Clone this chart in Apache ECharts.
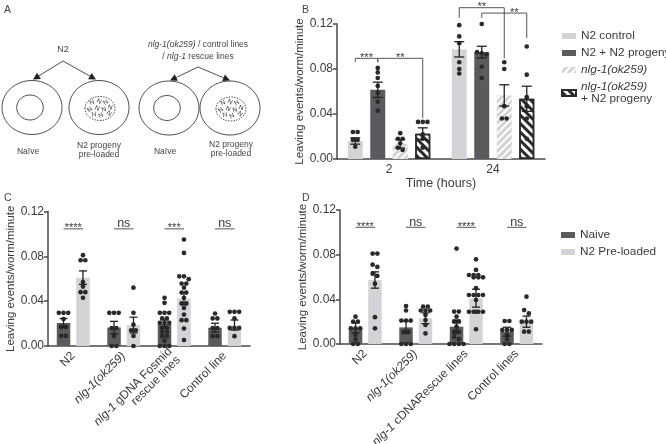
<!DOCTYPE html>
<html>
<head>
<meta charset="utf-8">
<script src="https://cdn.jsdelivr.net/npm/echarts@6/dist/echarts.min.js"></script>
<style>
  html, body { margin: 0; padding: 0; background: #fff; }
  #chart { width: 666px; height: 444px; }
</style>
</head>
<body>
<div id="chart"></div>
<script>
// ---------- panel B data ----------
const bCats = ['2', '24'];
const bNames = ['N2 control', 'N2 + N2 progeny', 'nlg-1(ok259)', 'nlg-1(ok259) + N2 progeny'];
const bMeans = [
  [0.016, 0.0975],
  [0.0615, 0.095],
  [0.0135, 0.0565],
  [0.0225, 0.0535]
];
const bSems = [
  [0.0028, 0.0068],
  [0.0068, 0.0052],
  [0.0038, 0.0095],
  [0.0052, 0.0112]
];
const bDots = [
  [[0.024, 0.024, 0.017, 0.017, 0.011], [0.119, 0.109, 0.103, 0.086, 0.080, 0.076]],
  [[0.081, 0.077, 0.072, 0.065, 0.059, 0.051, 0.043], [0.120, 0.095, 0.094, 0.093, 0.082, 0.072]],
  [[0.023, 0.018, 0.018, 0.014, 0.010, 0.008], [0.086, 0.080, 0.047, 0.036, 0.036]],
  [[0.033, 0.033, 0.033, 0.022, 0.018, 0.010], [0.100, 0.075, 0.055, 0.047, 0.036, 0.018]]
];
// [cat1, series1, cat2, series2, top, leg1 end, leg2 end, label, label shift px]
const bBrackets = [
  [0, 0, 0, 1, 0.0895, 0.086, 0.086, '***', 0],
  [0, 1, 0, 3, 0.0895, 0.086, 0.0365, '**', 0],
  [1, 0, 1, 2, 0.1345, 0.1255, 0.0895, '**', 0],
  [1, 1, 1, 3, 0.1297, 0.1255, 0.1075, '**', 10]
];

// ---------- panel C data ----------
const cCats = ['N2', 'nlg-1(ok259)', 'nlg-1 gDNA Fosmid\nrescue lines', 'Control line'];
const cNaiveMean = [0.0205, 0.0165, 0.0196, 0.0163];
const cNaiveSem = [0.004, 0.0055, 0.0037, 0.004];
const cLoadedMean = [0.061, 0.0187, 0.0424, 0.0187];
const cLoadedSem = [0.006, 0.007, 0.0055, 0.0045];
const cNaiveDots = [
  [0.0296, 0.0296, 0.0296, 0.024, 0.017, 0.017, 0.009, 0.009],
  [0.0296, 0.0296, 0.0296, 0.016, 0.016, 0.009, 0, 0],
  [0.043, 0.0385, 0.0296, 0.0296, 0.0296, 0.0246, 0.0246, 0.0207, 0.0207, 0.0207, 0.0163, 0.0163, 0.0127, 0.0127, 0.0088, 0.0088, 0.0047, 0, 0, 0],
  [0.029, 0.0246, 0.0246, 0.016, 0.016, 0.0088, 0.0088]
];
const cLoadedDots = [
  [0.081, 0.0765, 0.0765, 0.057, 0.053, 0.048, 0.048, 0.043],
  [0.052, 0.0296, 0.019, 0.014, 0.014, 0.009, 0],
  [0.095, 0.083, 0.0622, 0.0622, 0.0596, 0.0557, 0.0557, 0.052, 0.0477, 0.0477, 0.043, 0.038, 0.038, 0.034, 0.028, 0.023, 0.023, 0.0156, 0.0053],
  [0.0305, 0.0305, 0.0305, 0.0246, 0.016, 0.016, 0.016, 0.0088]
];
const cSig = ['****', 'ns', '***', 'ns'];

// ---------- panel D data ----------
const dCats = ['N2', 'nlg-1(ok259)', 'nlg-1 cDNARescue lines', 'Control lines'];
const dNaiveMean = [0.0146, 0.0149, 0.0155, 0.011];
const dNaiveSem = [0.0045, 0.0055, 0.006, 0.004];
const dLoadedMean = [0.0573, 0.023, 0.041, 0.020];
const dLoadedSem = [0.0073, 0.0048, 0.008, 0.005];
const dNaiveDots = [
  [0.0245, 0.020, 0.020, 0.014, 0.014, 0.014, 0.008, 0.004, 0, 0],
  [0.034, 0.030, 0.021, 0.021, 0.021, 0.011, 0.011, 0, 0, 0],
  [0.0855, 0.029, 0.029, 0.0245, 0.020, 0.020, 0.0155, 0.011, 0.011, 0.0066, 0.0044, 0, 0, 0, 0],
  [0.0206, 0.0206, 0.0126, 0.0126, 0.0126, 0.008, 0.0042, 0, 0]
];
const dLoadedDots = [
  [0.081, 0.081, 0.071, 0.069, 0.063, 0.061, 0.054, 0.024, 0.014],
  [0.0334, 0.0334, 0.030, 0.030, 0.030, 0.026, 0.0215, 0.017, 0.0095],
  [0.0758, 0.0663, 0.0618, 0.0618, 0.0618, 0.0597, 0.0597, 0.0597, 0.05, 0.0439, 0.0439, 0.0439, 0.0439, 0.0394, 0.0289, 0.0289, 0.0289, 0.0289, 0.0289, 0.0132],
  [0.0424, 0.0304, 0.0274, 0.020, 0.020, 0.020, 0.011, 0.011]
];
const dSig = ['****', 'ns', '****', 'ns'];
const sigLevel = 0.1045;

const yTicks = { min: 0, max: 0.12, interval: 0.04 };

// ---------- styling ----------
const FONT = 'Liberation Sans, Arial, sans-serif';
const txt = '#3a3a3a';
const axisCol = '#4a4a4a';
const lightGray = '#d4d4d8';
const darkGray = '#5b5b5f';

function ital(s) {
  return s.replace('nlg-1(ok259)', '{i|nlg-1(ok259)}').replace(/^nlg-1 /, '{i|nlg-1} ');
}
function legendFmt(name) {
  if (name === 'nlg-1(ok259) + N2 progeny') return '{i|nlg-1(ok259)}\n+ N2 progeny';
  return ital(name);
}

// spread dots of similar height into centred rows
function layoutDots(ys, d) {
  const idx = ys.map((y, i) => i).sort((a, b) => ys[a] - ys[b]);
  const out = new Array(ys.length);
  let row = [];
  const flush = () => {
    row.forEach((k, j) => { out[k] = (j - (row.length - 1) / 2) * d; });
    row = [];
  };
  idx.forEach(k => {
    if (row.length && (Math.abs(ys[k] - ys[row[0]]) > d * 0.8 || row.length >= 4)) flush();
    row.push(k);
  });
  flush();
  return out;
}

function dotsAndErrors(ax, sIdx, nSer, bw, gapR, means, sems, dots, capW, errCol) {
  return {
    type: 'custom', xAxisIndex: ax, yAxisIndex: ax, silent: true, z: 4,
    data: means.map((m, i) => [i, m, sems[i]]),
    encode: { x: 0, y: 1 },
    renderItem: function (params, api) {
      const ci = api.value(0), m = api.value(1), s = api.value(2);
      const x = api.coord([ci, m])[0] + (sIdx - (nSer - 1) / 2) * bw * (1 + gapR);
      const ys = dots[params.dataIndex].map(v => api.coord([ci, v])[1]);
      const dx = layoutDots(ys, 4.7);
      const kids = ys.map((y, k) => ({
        type: 'circle', shape: { cx: x + dx[k], cy: y, r: 2.35 }, style: { fill: '#2a2a2a' }
      }));
      const y1 = api.coord([ci, m + s])[1], y2 = api.coord([ci, m - s])[1];
      const ln = { stroke: errCol, lineWidth: 1.3 };
      kids.push({ type: 'line', shape: { x1: x, y1: y1, x2: x, y2: y2 }, style: ln });
      kids.push({ type: 'line', shape: { x1: x - capW / 2, y1: y1, x2: x + capW / 2, y2: y1 }, style: ln });
      kids.push({ type: 'line', shape: { x1: x - capW / 2, y1: y2, x2: x + capW / 2, y2: y2 }, style: ln });
      return { type: 'group', children: kids };
    }
  };
}

function bracketSeries(ax, nSer, bw, gapR, list) {
  return {
    type: 'custom', xAxisIndex: ax, yAxisIndex: ax, silent: true, z: 5,
    data: list.map(b => [b[0], b[4]]),
    encode: { x: 0, y: 1 },
    renderItem: function (params, api) {
      const b = list[params.dataIndex];
      const off = s => (s - (nSer - 1) / 2) * bw * (1 + gapR);
      const xa = api.coord([b[0], 0])[0] + off(b[1]);
      const xb = api.coord([b[2], 0])[0] + off(b[3]);
      const yt = api.coord([0, b[4]])[1];
      const ya = api.coord([0, b[5]])[1];
      const yb = api.coord([0, b[6]])[1];
      const isNs = b[7] === 'ns';
      return {
        type: 'group', children: [
          { type: 'polyline', shape: { points: [[xa, ya], [xa, yt], [xb, yt], [xb, yb]] },
            style: { stroke: '#555', lineWidth: 1, fill: null } },
          { type: 'text', x: (xa + xb) / 2 + (b[8] || 0), y: isNs ? yt + 1.5 : yt + 5,
            style: { text: b[7], fontSize: isNs ? 12.5 : 11, fontFamily: FONT, fill: txt,
                     align: 'center', verticalAlign: 'bottom' } }
        ]
      };
    }
  };
}

function yAxisCfg(grid, gap) {
  return {
    type: 'value', gridIndex: grid, min: yTicks.min, max: yTicks.max, interval: yTicks.interval,
    name: 'Leaving events/worm/minute', nameLocation: 'middle', nameGap: gap,
    nameTextStyle: { fontSize: 11.5, color: txt, fontFamily: FONT },
    axisLine: { show: true, lineStyle: { color: axisCol, width: 1.5 } },
    axisTick: { show: true, length: 4, lineStyle: { color: axisCol, width: 1.5 } },
    axisLabel: { formatter: v => v.toFixed(2), color: txt, fontSize: 12, margin: 4, fontFamily: FONT },
    splitLine: { show: false }
  };
}

const richI = { i: { fontStyle: 'italic', fontSize: 12, color: txt, fontFamily: FONT } };

function xAxisCfg(grid, cats, rotate) {
  return {
    type: 'category', gridIndex: grid, data: cats,
    axisLine: { lineStyle: { color: axisCol, width: 1.5 } },
    axisTick: { alignWithLabel: true, length: 4, lineStyle: { color: axisCol, width: 1.5 } },
    axisLabel: { color: txt, fontSize: 12, fontFamily: FONT, rotate: rotate, margin: rotate ? 8 : 5,
                 interval: 0, formatter: ital, rich: richI }
  };
}

// ---------- series ----------
const bBW = 15, bGap = 0.5;
const bColors = [lightGray, darkGray, lightGray, '#ffffff'];
const series = [];
bNames.forEach((n, i) => {
  const st = { color: bColors[i] };
  if (i === 2) st.decal = { symbol: 'rect', symbolSize: 1, dashArrayX: [1, 0], dashArrayY: [1.6, 3], rotation: -Math.PI / 4, color: '#ffffff' };
  if (i === 3) {
    st.borderColor = '#2a2a2a'; st.borderWidth = 1.5;
    st.decal = { symbol: 'rect', symbolSize: 1, dashArrayX: [1, 0], dashArrayY: [2.6, 2.6], rotation: Math.PI / 4, color: '#2a2a2a' };
  }
  series.push({ type: 'bar', name: n, xAxisIndex: 0, yAxisIndex: 0, data: bMeans[i],
    barWidth: bBW, barGap: bGap * 100 + '%', itemStyle: st, silent: true });
});
bNames.forEach((n, i) => {
  series.push(dotsAndErrors(0, i, 4, bBW, bGap, bMeans[i], bSems[i], bDots[i], 10, '#222'));
});
series.push(bracketSeries(0, 4, bBW, bGap, bBrackets));

const cdBW = 13.5, cdGap = 0.44;
[[1, cNaiveMean, cNaiveSem, cNaiveDots, cLoadedMean, cLoadedSem, cLoadedDots, cSig],
 [2, dNaiveMean, dNaiveSem, dNaiveDots, dLoadedMean, dLoadedSem, dLoadedDots, dSig]].forEach(p => {
  const ax = p[0];
  series.push({ type: 'bar', name: 'Naive', xAxisIndex: ax, yAxisIndex: ax, data: p[1],
    barWidth: cdBW, barGap: cdGap * 100 + '%', itemStyle: { color: darkGray }, silent: true });
  series.push({ type: 'bar', name: 'N2 Pre-loaded', xAxisIndex: ax, yAxisIndex: ax, data: p[4],
    barWidth: cdBW, barGap: cdGap * 100 + '%', itemStyle: { color: lightGray }, silent: true });
  series.push(dotsAndErrors(ax, 0, 2, cdBW, cdGap, p[1], p[2], p[3], 8, '#222'));
  series.push(dotsAndErrors(ax, 1, 2, cdBW, cdGap, p[4], p[5], p[6], 8, '#222'));
  series.push(bracketSeries(ax, 2, cdBW, cdGap,
    p[7].map((s, i) => [i, 0, i, 1, sigLevel, sigLevel, sigLevel, s, 0])));
});

// ---------- panel A schematic ----------
const ink = '#3c3c3c';
const gfx = [];
function label(x, y, t, size) {
  gfx.push({ type: 'text', x: x, y: y,
    style: { text: t, fontSize: size, fontFamily: FONT, fill: '#444', align: 'center', verticalAlign: 'middle',
             lineHeight: 9.5,
             rich: { i: { fontStyle: 'italic', fontSize: size, fontFamily: FONT, fill: '#444' } } } });
}
function arrow(x1, y1, x2, y2) {
  const dx = x2 - x1, dy = y2 - y1, L = Math.hypot(dx, dy), ux = dx / L, uy = dy / L;
  const bx = x2 - ux * 7, by = y2 - uy * 7;
  gfx.push({ type: 'line', shape: { x1: x1, y1: y1, x2: bx, y2: by }, style: { stroke: ink, lineWidth: 0.9 } });
  gfx.push({ type: 'polygon', shape: { points: [[x2, y2], [bx - uy * 3.6, by + ux * 3.6], [bx + uy * 3.6, by - ux * 3.6]] },
    style: { fill: '#222' } });
}
function dish(cx, cy, loaded) {
  gfx.push({ type: 'ellipse', shape: { cx: cx, cy: cy, rx: 30, ry: 27 }, style: { fill: null, stroke: ink, lineWidth: 0.9 } });
  if (!loaded) {
    gfx.push({ type: 'ellipse', shape: { cx: cx - 2, cy: cy, rx: 13.3, ry: 12.5 }, style: { fill: null, stroke: ink, lineWidth: 0.9 } });
  } else {
    gfx.push({ type: 'ellipse', shape: { cx: cx + 1, cy: cy + 1, rx: 15, ry: 12 },
      style: { fill: null, stroke: ink, lineWidth: 0.9, lineDash: [1.5, 1.2] } });
    [[-8, -6, 0.4], [-1, -7, -0.5], [6, -6, 0.6], [10, -1, -0.3], [-10, 1, 0.7], [-3, 0, -0.4],
     [4, 1, 0.3], [9, 5, -0.7], [-6, 6, 0.2], [1, 7, 0.5]].forEach(w => {
      gfx.push({ type: 'text', x: cx + 1 + w[0], y: cy + 1 + w[1], rotation: w[2],
        style: { text: 'N', fontSize: 6.5, fontFamily: FONT, fill: '#333', align: 'center', verticalAlign: 'middle' } });
    });
  }
}
label(63, 50, 'N2', 9);
arrow(63, 61, 33, 79.5);
arrow(63, 61, 96, 79.5);
dish(32, 107.5, false);
dish(99, 107.5, true);
label(28, 152, 'Naïve', 8.5);
label(99, 150, 'N2 progeny\npre-loaded', 8.5);
label(198, 45, '{i|nlg-1(ok259)} / control lines', 8.5);
label(198, 56.5, '/ {i|nlg-1} rescue lines', 8.5);
arrow(198, 67, 170, 80.5);
arrow(198, 67, 230, 80.5);
dish(169, 108, false);
dish(230, 108, true);
label(165, 152, 'Naïve', 8.5);
label(231, 149, 'N2 progeny\npre-loaded', 8.5);

// panel letters
[['A', 4, 5], ['B', 302, 5], ['C', 4, 193], ['D', 302, 193]].forEach(l => {
  gfx.push({ type: 'text', x: l[1], y: l[2], style: { text: l[0], fontSize: 10.5, fontFamily: FONT, fill: '#444' } });
});

const legendBase = {
  orient: 'vertical', icon: 'rect', itemWidth: 14, itemHeight: 6, selectedMode: false,
  textStyle: { fontSize: 11.8, color: txt, fontFamily: FONT,
               rich: { i: { fontStyle: 'italic', fontSize: 11.8, color: txt, fontFamily: FONT } } },
  formatter: legendFmt
};

const chart = echarts.init(document.getElementById('chart'));
chart.setOption({
  animation: false,
  backgroundColor: '#fff',
  textStyle: { fontFamily: FONT },
  grid: [
    { left: 337, top: 24, width: 208, height: 135, outerBoundsMode: 'none', containLabel: false },
    { left: 48, top: 211.5, width: 202, height: 134.5, outerBoundsMode: 'none', containLabel: false },
    { left: 340, top: 210, width: 202, height: 134, outerBoundsMode: 'none', containLabel: false }
  ],
  xAxis: [
    Object.assign(xAxisCfg(0, bCats, 0), {
      name: 'Time (hours)', nameLocation: 'middle', nameGap: 17,
      nameTextStyle: { fontSize: 12.5, color: txt, fontFamily: FONT, verticalAlign: 'top' }
    }),
    xAxisCfg(1, cCats, 45),
    xAxisCfg(2, dCats, 45)
  ],
  yAxis: [yAxisCfg(0, 28), yAxisCfg(1, 31), yAxisCfg(2, 29)],
  legend: [
    Object.assign({ data: bNames, left: 556, top: 25, itemGap: 5 }, legendBase),
    Object.assign({ data: ['Naive', 'N2 Pre-loaded'], left: 556, top: 224, itemGap: 5 }, legendBase)
  ],
  graphic: gfx,
  series: series
});
</script>
</body>
</html>
